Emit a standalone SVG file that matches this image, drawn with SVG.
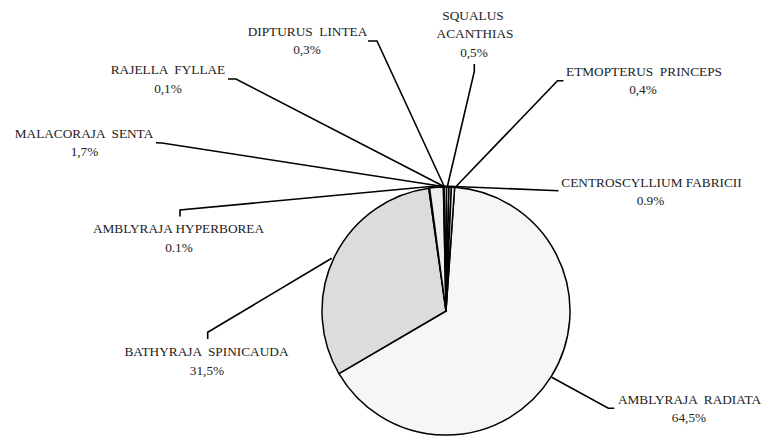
<svg xmlns="http://www.w3.org/2000/svg" width="765" height="437" viewBox="0 0 765 437">
<style>
.t{font-family:'Liberation Serif',Tinos,'Times New Roman','DejaVu Serif',serif;font-size:13.3px;fill:#222;text-anchor:middle;white-space:pre}
.s{stroke:#000;stroke-width:1.5;stroke-linejoin:round}
.ld{fill:none;stroke:#000;stroke-width:1.6;stroke-linejoin:miter}
</style>
<rect width="765" height="437" fill="#fff"/>
<g id="pie">
<g id="radiata"><path class="s" fill="#f6f6f6" d="M446,311 L454.65,187.30 A124,124 0 1 1 338.94,373.56 Z"/></g>
<g id="bathyraja"><path class="s" fill="#dcdcdc" d="M446,311 L338.94,373.56 A124,124 0 0 1 428.74,188.21 Z"/></g>
<g id="hyperborea"><path class="s" fill="#eeeeee" d="M446,311 L428.74,188.21 A124,124 0 0 1 429.60,188.09 Z"/></g>
<g id="malacoraja"><path class="s" fill="#eeeeee" d="M446,311 L429.60,188.09 A124,124 0 0 1 443.40,187.03 Z"/></g>
<g id="rajella"><path class="s" fill="#eeeeee" d="M446,311 L443.40,187.03 A124,124 0 0 1 444.27,187.01 Z"/></g>
<g id="dipturus"><path class="s" fill="#eeeeee" d="M446,311 L444.27,187.01 A124,124 0 0 1 446.65,187.00 Z"/></g>
<g id="squalus"><path class="s" fill="#eeeeee" d="M446,311 L446.65,187.00 A124,124 0 0 1 449.03,187.04 Z"/></g>
<g id="etmopterus"><path class="s" fill="#eeeeee" d="M446,311 L449.03,187.04 A124,124 0 0 1 451.41,187.12 Z"/></g>
<g id="centroscyllium"><path class="s" fill="#eeeeee" d="M446,311 L451.41,187.12 A124,124 0 0 1 454.65,187.30 Z"/></g>
</g>
<g id="connectors">
<polyline class="ld" points="180,216.5 180,210 441,185.5"/>
<polyline class="ld" points="156,142.7 162,143 443,186.5"/>
<polyline class="ld" points="228,79 236,79 443,186"/>
<polyline class="ld" points="368,41 377,41 444,186"/>
<polyline class="ld" points="474.3,64 474.3,71.5 447.5,186"/>
<polyline class="ld" points="563.5,80.7 557.5,80.7 456.5,186"/>
<polyline class="ld" points="443,186 558.5,190.7"/>
<polyline class="ld" points="207.7,339 207.7,332.3 331.7,258.3"/>
<polyline class="ld" points="551.7,377.3 608.3,408.3 614.3,408.3"/>
</g>
<g id="label-dipturus"><text class="t" x="307.5" y="35.5">DIPTURUS  LINTEA</text><text class="t" x="307" y="54">0,3%</text></g>
<g id="label-squalus"><text class="t" x="473" y="19.5">SQUALUS</text><text class="t" x="475" y="38">ACANTHIAS</text><text class="t" x="474" y="56.5">0,5%</text></g>
<g id="label-etmopterus"><text class="t" x="644" y="75.5">ETMOPTERUS  PRINCEPS</text><text class="t" x="643" y="94">0,4%</text></g>
<g id="label-centroscyllium"><text class="t" x="651.5" y="186.5">CENTROSCYLLIUM FABRICII</text><text class="t" x="650.5" y="205">0.9%</text></g>
<g id="label-rajella"><text class="t" x="168" y="74">RAJELLA  FYLLAE</text><text class="t" x="168" y="92.5">0,1%</text></g>
<g id="label-malacoraja"><text class="t" x="84" y="137.5">MALACORAJA  SENTA</text><text class="t" x="84.5" y="156">1,7%</text></g>
<g id="label-hyperborea"><text class="t" x="178.5" y="233">AMBLYRAJA HYPERBOREA</text><text class="t" x="179" y="251.5">0.1%</text></g>
<g id="label-bathyraja"><text class="t" x="206.5" y="356">BATHYRAJA  SPINICAUDA</text><text class="t" x="207" y="374.5">31,5%</text></g>
<g id="label-radiata"><text class="t" x="689.5" y="403.5">AMBLYRAJA  RADIATA</text><text class="t" x="689" y="422">64,5%</text></g>
</svg>
